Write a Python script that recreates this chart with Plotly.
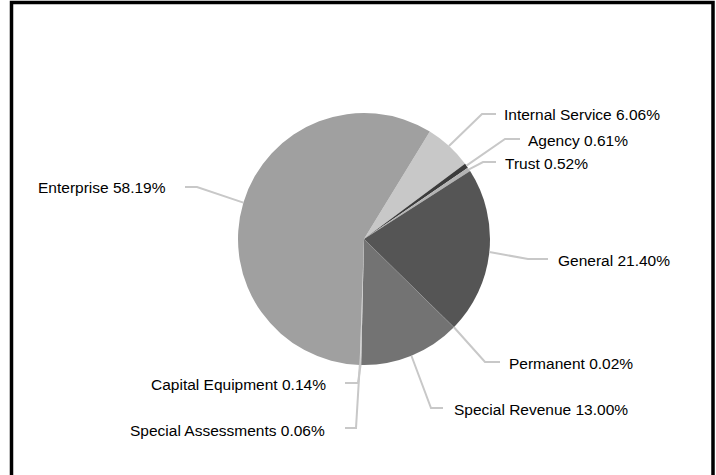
import math
import plotly.graph_objects as go

# slices, clockwise starting from the Internal Service slice
labels = ["Internal Service", "Agency", "Trust", "General", "Permanent",
          "Special Revenue", "Capital Equipment", "Special Assessments", "Enterprise"]
shares = [6.06, 0.61, 0.52, 21.40, 0.02, 13.00, 0.14, 0.06, 58.19]
colors = ["#c8c8c8", "#3c3c3c", "#b4b4b4", "#555555", "#8a96a2",
          "#737373", "#c4c4c4", "#d2d2d2", "#a0a0a0"]

W, H = 716, 475
CX, CY, R = 364, 239, 126
ROT = 31.5

# label layout in pixels: elbow of leader line, end of leader line, text x, side
label_layout = {
    "Internal Service":    dict(elbow=(482, 114), end=496, tx=502, ty=115, side="left"),
    "Agency":              dict(elbow=(505, 139), end=520, tx=526, ty=140, side="left"),
    "Trust":               dict(elbow=(483, 162), end=496, tx=503, ty=163, side="left"),
    "General":             dict(elbow=(528, 259), end=548, tx=556, ty=260, side="left"),
    "Permanent":           dict(elbow=(485, 362), end=500, tx=507, ty=363, side="left"),
    "Special Revenue":     dict(elbow=(431, 408), end=443, tx=452, ty=409, side="left"),
    "Capital Equipment":   dict(elbow=(358, 383), end=345, tx=328, ty=384, side="right"),
    "Special Assessments": dict(elbow=(356, 428), end=345, tx=327, ty=430, side="right"),
    "Enterprise":          dict(elbow=(197, 187), end=185, tx=168, ty=188, side="right"),
}


def px(x, y):
    return x / W, 1 - y / H


fig = go.Figure(go.Pie(
    labels=labels,
    values=shares,
    sort=False,
    direction="clockwise",
    rotation=ROT,
    marker=dict(colors=colors, line=dict(width=0)),
    textinfo="none",
    hoverinfo="label+percent",
    showlegend=False,
    domain=dict(x=[(CX - R) / W, (CX + R) / W], y=[1 - (CY + R) / H, 1 - (CY - R) / H]),
))

shapes = []
annotations = []
total = sum(shares)
start = ROT
for lab, val in zip(labels, shares):
    span = val / total * 360
    mid = math.radians(start + span / 2)
    start += span
    ax, ay = CX + R * math.sin(mid), CY - R * math.cos(mid)
    cfg = label_layout[lab]
    ex, ey = cfg["elbow"]
    p0, p1, p2 = px(ax, ay), px(ex, ey), px(cfg["end"], ey)
    shapes.append(dict(
        type="path", xref="paper", yref="paper",
        path=f"M {p0[0]},{p0[1]} L {p1[0]},{p1[1]} L {p2[0]},{p2[1]}",
        line=dict(color="#c8c8c8", width=2),
    ))
    tx, ty = px(cfg["tx"], cfg["ty"])
    annotations.append(dict(
        x=tx, y=ty, xref="paper", yref="paper",
        text=f"{lab} {val:.2f}%", showarrow=False,
        xanchor=cfg["side"], yanchor="middle",
        font=dict(family="Arial, Liberation Sans", size=15.5, color="#000000"),
    ))

# black frame around the chart
shapes.append(dict(
    type="rect", xref="paper", yref="paper",
    x0=11.5 / W, x1=713 / W, y0=-0.05, y1=1 - 2.5 / H,
    line=dict(color="black", width=3.5),
))

fig.update_layout(
    width=W, height=H,
    margin=dict(l=0, r=0, t=0, b=0),
    paper_bgcolor="white",
    plot_bgcolor="white",
    shapes=shapes,
    annotations=annotations,
)

# drop the browser's default body margin so the figure sits at the page corner
fig.write_html("out.html", config={"displayModeBar": False},
               post_script="document.body.style.margin='0';")
